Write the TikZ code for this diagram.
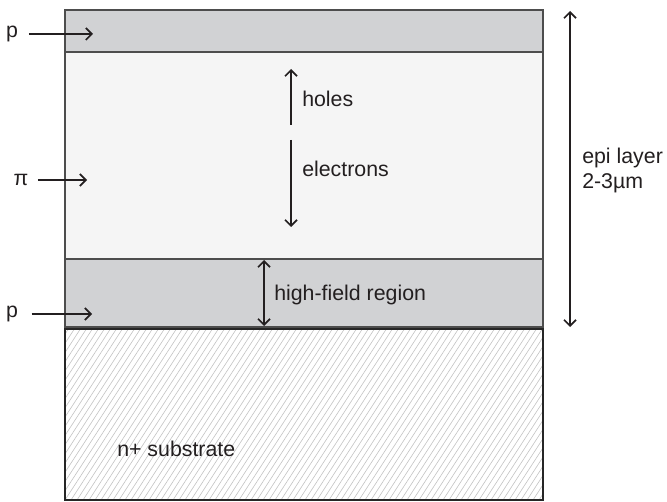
\documentclass[tikz,border=0pt]{standalone}
\usepackage{fontspec}
\setmainfont{Liberation Sans}
\usetikzlibrary{arrows.meta}
\definecolor{layergrey}{HTML}{D1D2D4}
\definecolor{pilayer}{HTML}{F5F5F5}
\definecolor{edgegrey}{HTML}{4D4D4D}
\definecolor{hatchgrey}{HTML}{C4C4C4}
\definecolor{inkdark}{HTML}{231F20}
\tikzset{
  lbl/.style={font=\fontsize{16}{19}\selectfont, text=inkdark, inner sep=0pt},
  lblw/.style={lbl, anchor=west},
  arr/.style={draw=inkdark, line width=1.5pt, -{Straight Barb[length=4.5pt,width=9pt,line width=1.3pt]}},
  darr/.style={draw=inkdark, line width=1.5pt, {Straight Barb[length=4.5pt,width=9pt,line width=1.3pt]}-{Straight Barb[length=4.5pt,width=9pt,line width=1.3pt]}},
  layeredge/.style={draw=edgegrey, line width=1.2pt},
  hatch/.style={draw=hatchgrey, line width=0.45pt}
}
\begin{document}
\begin{tikzpicture}[x=0.75pt,y=-0.75pt]
\useasboundingbox (0,0) rectangle (667,502);

% layer fills
\fill[layergrey] (65,10) rectangle (543,52);
\fill[pilayer] (65,52) rectangle (543,259);
\fill[layergrey] (65,259) rectangle (543,327);

% substrate hatching
\fill[white] (65,328) rectangle (543,500);
\begin{scope}
  \clip (65,328) rectangle (543,500);
  \foreach \i in {-20,...,80} {
    \draw[hatch] ({65+\i*6},500) -- ++(112,-172);
  }
\end{scope}

% layer outlines
\draw[layeredge] (65,10) rectangle (543,327);
\draw[layeredge] (65,52) -- (543,52);
\draw[layeredge] (65,259) -- (543,259);
\draw[draw=black!85, line width=1.5pt] (65,328.5) rectangle (543,500);

% doping labels with pointers
\node[lbl] (ptop) at (12,34) {p};
\coordinate (ptopend) at (93,34);
\draw[arr] (ptop.east) ++(8pt,0) -- (ptopend);

\node[lbl] (pi) at (21,180) {\symbol{"03C0}};
\coordinate (piend) at (87,180);
\draw[arr] (pi.east) ++(7pt,0) -- (piend);

\node[lbl] (pbot) at (12,314) {p};
\coordinate (pbotend) at (92,314);
\draw[arr] (pbot.east) ++(10pt,0) -- (pbotend);

% carrier motion
\coordinate (holesA) at (291,125);
\coordinate (holesB) at (291,69);
\draw[arr] (holesA) -- (holesB);
\node[lblw] (holes) at (302,99) {holes};

\coordinate (elecA) at (291,140);
\coordinate (elecB) at (291,227);
\draw[arr] (elecA) -- (elecB);
\node[lblw] (electrons) at (302,169) {electrons};

% high-field region
\coordinate (hfA) at (264,260);
\coordinate (hfB) at (264,326);
\draw[darr] (hfA) -- (hfB);
\node[lblw] (highfield) at (274,295) {high-field region};

% epi layer thickness
\coordinate (epiA) at (570,11);
\coordinate (epiB) at (570,327);
\draw[darr] (epiA) -- (epiB);
\node[lblw] (epi) at (582,158) {epi layer};
\node[lblw] (thick) at (582,183) {2-3\symbol{"00B5}m};

% substrate label
\node[lblw] (subst) at (117,449) {n+ substrate};
\end{tikzpicture}
\end{document}
